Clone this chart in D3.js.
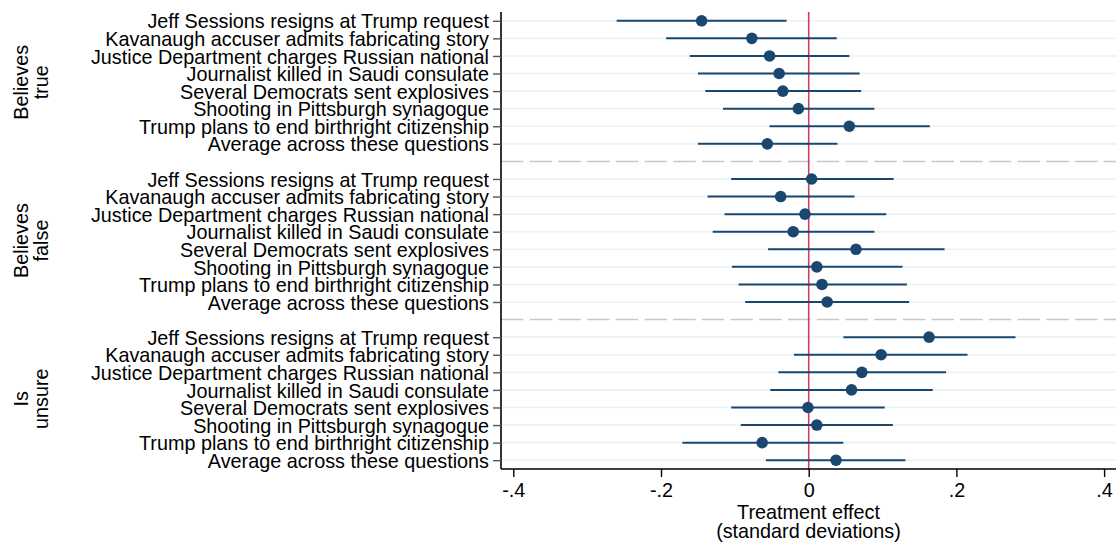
<!DOCTYPE html>
<html>
<head>
<meta charset="utf-8">
<script src="https://cdn.jsdelivr.net/npm/d3@7"></script>
<style>
  html, body { margin: 0; padding: 0; background: #fff; }
  svg { display: block; }
  text { font-family: "Liberation Sans", Arial, Helvetica, sans-serif; fill: #000; }
</style>
</head>
<body>
<svg id="chart" width="1116" height="544"></svg>
<script>
const questions = [
  "Jeff Sessions resigns at Trump request",
  "Kavanaugh accuser admits fabricating story",
  "Justice Department charges Russian national",
  "Journalist killed in Saudi consulate",
  "Several Democrats sent explosives",
  "Shooting in Pittsburgh synagogue",
  "Trump plans to end birthright citizenship",
  "Average across these questions"
];
const groupLabels = [["Believes", "true"], ["Believes", "false"], ["Is", "unsure"]];

const trueEst   = [-0.145, -0.077, -0.053, -0.040, -0.035, -0.014,  0.055, -0.056];
const trueLo    = [-0.260, -0.193, -0.161, -0.150, -0.140, -0.116, -0.053, -0.150];
const trueHi    = [-0.030,  0.038,  0.055,  0.069,  0.071,  0.089,  0.164,  0.039];

const falseEst  = [ 0.004, -0.038, -0.005, -0.021,  0.064,  0.011,  0.018,  0.025];
const falseLo   = [-0.105, -0.137, -0.114, -0.130, -0.055, -0.104, -0.095, -0.086];
const falseHi   = [ 0.115,  0.062,  0.105,  0.089,  0.184,  0.127,  0.133,  0.136];

const unsureEst = [ 0.163,  0.098,  0.072,  0.058, -0.001,  0.011, -0.063,  0.037];
const unsureLo  = [ 0.047, -0.020, -0.041, -0.052, -0.105, -0.092, -0.171, -0.058];
const unsureHi  = [ 0.280,  0.215,  0.186,  0.168,  0.103,  0.114,  0.047,  0.131];

const xTicks = [-0.4, -0.2, 0, 0.2, 0.4];
const xTickLabels = ["-.4", "-.2", "0", ".2", ".4"];
const xTitle = ["Treatment effect", "(standard deviations)"];

const groups = [
  { est: trueEst, lo: trueLo, hi: trueHi },
  { est: falseEst, lo: falseLo, hi: falseHi },
  { est: unsureEst, lo: unsureLo, hi: unsureHi }
];

// build rows: 8 per group, separators between groups
const rows = [];
const separators = [];
let slot = 0;
groups.forEach((g, gi) => {
  questions.forEach((q, qi) => {
    rows.push({ key: "r" + slot, label: q, group: gi, est: g.est[qi], lo: g.lo[qi], hi: g.hi[qi] });
    slot++;
  });
  if (gi < groups.length - 1) { separators.push("r" + slot); slot++; }
});
const slotKeys = d3.range(slot).map(i => "r" + i);

const FONT = 19.8;
const plotLeft = 501, plotRight = 1116, plotTop = 12, plotBottom = 469;

const svg = d3.select("#chart");
const x = d3.scaleLinear().domain([-0.4, 0.4]).range([513.3, 1104.1]);
const y = d3.scalePoint().domain(slotKeys).range([plotTop, plotBottom]).padding(0.5);

// gridlines
svg.append("g").selectAll("line").data(rows).join("line")
  .attr("x1", plotLeft).attr("x2", plotRight)
  .attr("y1", d => y(d.key)).attr("y2", d => y(d.key))
  .attr("stroke", "#eaf2f3").attr("stroke-width", 1.6);

// separators
svg.append("g").selectAll("line").data(separators).join("line")
  .attr("x1", plotLeft).attr("x2", plotRight)
  .attr("y1", d => y(d)).attr("y2", d => y(d))
  .attr("stroke", "#c8c8c8").attr("stroke-width", 1.5)
  .attr("stroke-dasharray", "22.5,6.2");

// zero line
svg.append("line")
  .attr("x1", x(0)).attr("x2", x(0))
  .attr("y1", plotTop).attr("y2", plotBottom)
  .attr("stroke", "#c8405e").attr("stroke-width", 1.6);

// CI lines
svg.append("g").selectAll("line").data(rows).join("line")
  .attr("x1", d => x(d.lo)).attr("x2", d => x(d.hi))
  .attr("y1", d => y(d.key)).attr("y2", d => y(d.key))
  .attr("stroke", "#1a476f").attr("stroke-width", 2);

// points
svg.append("g").selectAll("circle").data(rows).join("circle")
  .attr("cx", d => x(d.est)).attr("cy", d => y(d.key))
  .attr("r", 5.8).attr("fill", "#1a476f");

// y axis
const yAxis = svg.append("g").attr("transform", `translate(${plotLeft},0)`)
  .call(d3.axisLeft(y).tickValues(rows.map(r => r.key))
    .tickFormat(k => rows.find(r => r.key === k).label)
    .tickSize(8).tickPadding(4));
yAxis.select(".domain").attr("d", `M0,${plotTop}V${plotBottom}`).attr("stroke", "#000").attr("stroke-width", 1.6);
yAxis.selectAll(".tick line").attr("stroke", "#555").attr("stroke-width", 1.4);
yAxis.selectAll(".tick text").attr("font-size", FONT).attr("font-family", null).attr("fill", "#000").attr("dy", "0.36em");

// x axis
const xAxis = svg.append("g").attr("transform", `translate(0,${plotBottom})`)
  .call(d3.axisBottom(x).tickValues(xTicks)
    .tickFormat((d, i) => xTickLabels[i]).tickSize(8).tickPadding(5));
xAxis.select(".domain").attr("d", `M${plotLeft},0H${plotRight}`).attr("stroke", "#000").attr("stroke-width", 1.6);
xAxis.selectAll(".tick line").attr("stroke", "#000").attr("stroke-width", 1.4);
xAxis.selectAll(".tick text").attr("font-size", FONT).attr("font-family", null).attr("fill", "#000")
  .attr("dy", null).attr("y", 28);

// x title
svg.append("g").selectAll("text").data(xTitle).join("text")
  .attr("x", (plotLeft + plotRight) / 2)
  .attr("y", (d, i) => 519.3 + i * 19)
  .attr("text-anchor", "middle").attr("font-size", FONT)
  .text(d => d);

// group labels
groupLabels.forEach((lines, gi) => {
  const keys = rows.filter(r => r.group === gi).map(r => y(r.key));
  const cy = (d3.min(keys) + d3.max(keys)) / 2;
  lines.forEach((t, li) => {
    const bx = 27.5 + li * 20.5;
    svg.append("text")
      .attr("transform", `translate(${bx},${cy}) rotate(-90)`)
      .attr("text-anchor", "middle").attr("font-size", FONT)
      .text(t);
  });
});
</script>
</body>
</html>
